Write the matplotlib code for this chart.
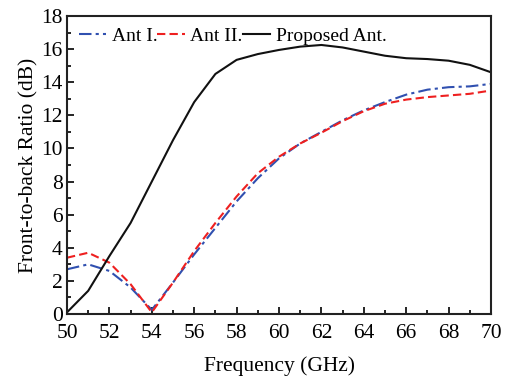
import matplotlib
matplotlib.use("Agg")
import matplotlib.pyplot as plt
from matplotlib.ticker import MultipleLocator

plt.rcParams['font.family'] = ['Liberation Serif', 'DejaVu Serif']
plt.rcParams['mathtext.fontset'] = 'stix'

freq = list(range(50, 71))
ant1 = [2.7, 3.0, 2.6, 1.6, 0.25, 1.9, 3.6, 5.2, 6.8, 8.2, 9.4, 10.3, 11.0, 11.7, 12.3, 12.8, 13.25, 13.55, 13.7, 13.75, 13.9]
ant2 = [3.4, 3.7, 3.1, 1.8, 0.1, 1.9, 3.8, 5.5, 7.1, 8.5, 9.5, 10.3, 10.95, 11.65, 12.25, 12.7, 12.95, 13.1, 13.2, 13.3, 13.5]
proposed = [0.1, 1.4, 3.5, 5.5, 8.0, 10.5, 12.8, 14.5, 15.35, 15.7, 15.95, 16.15, 16.25, 16.1, 15.85, 15.6, 15.45, 15.4, 15.3, 15.05, 14.6]
labels = ["Ant I.", "Ant II.", "Proposed Ant."]

fig = plt.figure(figsize=(5.05, 3.81), dpi=100)
ax = fig.add_axes([67/505, 1-314/381, (491-67)/505, (314-16)/381])

ax.plot(freq, ant1, color='#3050b0', ls=(0, (6, 2, 1.5, 2)), lw=1.5, label=labels[0])
ax.plot(freq, ant2, color='#ee2020', ls=(0, (4, 2)), lw=1.5, label=labels[1])
ax.plot(freq, proposed, color='#111111', ls='-', lw=1.5, label=labels[2])

ax.set_xlim(50, 70)
ax.set_ylim(0, 18)
ax.xaxis.set_major_locator(MultipleLocator(2))
ax.xaxis.set_minor_locator(MultipleLocator(1))
ax.yaxis.set_major_locator(MultipleLocator(2))
ax.yaxis.set_minor_locator(MultipleLocator(1))
ax.tick_params(which='both', direction='in', top=False, right=False, labelsize=15.5, width=1.2)
ax.tick_params(axis='x', pad=7)
ax.tick_params(axis='y', pad=3)
ax.tick_params(which='major', length=5)
ax.tick_params(which='minor', length=3)
for s in ax.spines.values():
    s.set_linewidth(1.5)
    s.set_color('#222222')

ax.set_xlabel("Frequency (GHz)", fontsize=15.5, labelpad=10)
ax.set_ylabel("Front-to-back Ratio (dB)", fontsize=15.5, labelpad=2)

ax.legend(loc='upper left', ncol=3, frameon=False, fontsize=14, handlelength=1.4,
          handletextpad=0.3, columnspacing=0.0, borderaxespad=0.3, borderpad=0.3)

fig.savefig("out.png", dpi=100)
